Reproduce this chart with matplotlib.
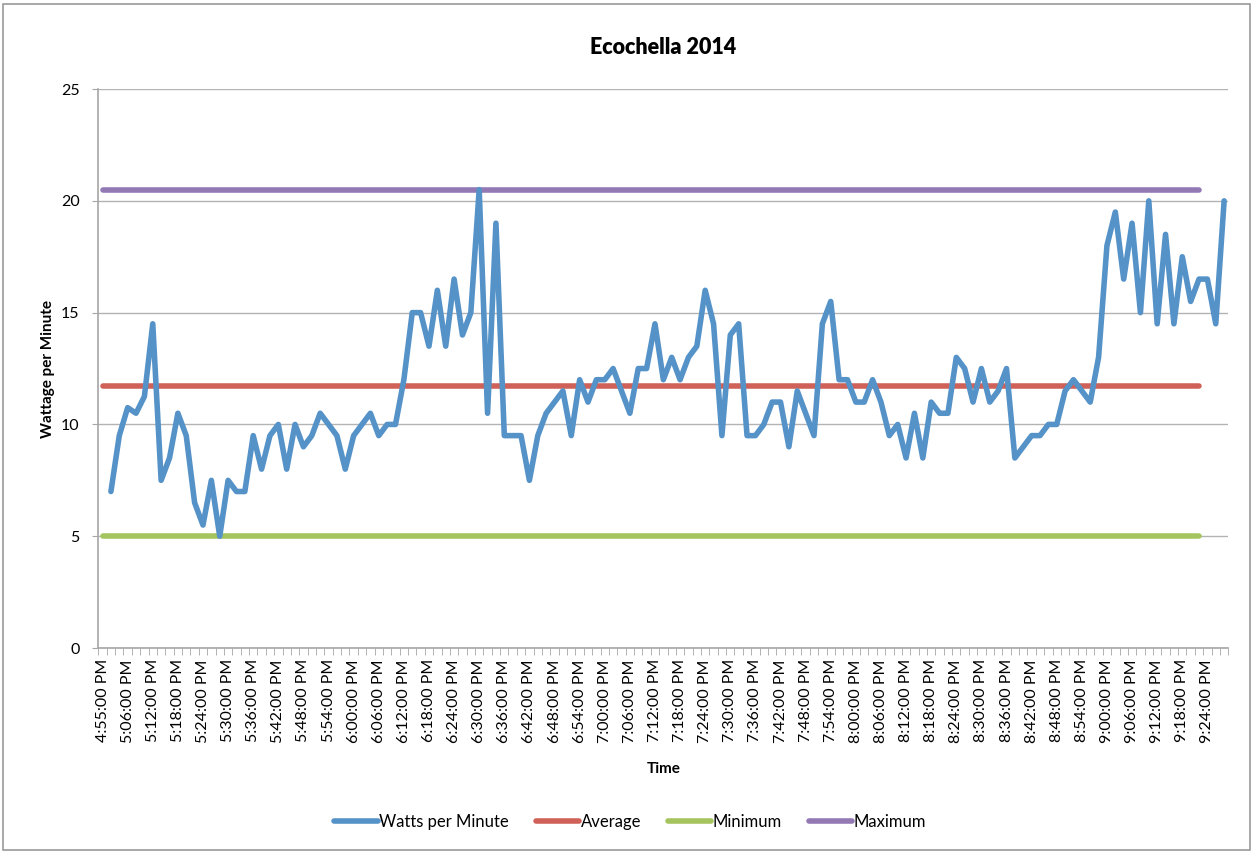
import numpy as np
import matplotlib.pyplot as plt
from matplotlib.patches import Rectangle

plt.rcParams['font.family'] = ['Lato', 'DejaVu Sans']

# x axis: one category per reading, a label every third category
tick_labels = ["4:55:00 PM", "5:06:00 PM", "5:12:00 PM", "5:18:00 PM", "5:24:00 PM",
               "5:30:00 PM", "5:36:00 PM", "5:42:00 PM", "5:48:00 PM", "5:54:00 PM",
               "6:00:00 PM", "6:06:00 PM", "6:12:00 PM", "6:18:00 PM", "6:24:00 PM",
               "6:30:00 PM", "6:36:00 PM", "6:42:00 PM", "6:48:00 PM", "6:54:00 PM",
               "7:00:00 PM", "7:06:00 PM", "7:12:00 PM", "7:18:00 PM", "7:24:00 PM",
               "7:30:00 PM", "7:36:00 PM", "7:42:00 PM", "7:48:00 PM", "7:54:00 PM",
               "8:00:00 PM", "8:06:00 PM", "8:12:00 PM", "8:18:00 PM", "8:24:00 PM",
               "8:30:00 PM", "8:36:00 PM", "8:42:00 PM", "8:48:00 PM", "8:54:00 PM",
               "9:00:00 PM", "9:06:00 PM", "9:12:00 PM", "9:18:00 PM", "9:24:00 PM"]
n_categories = 135

# watts per minute, first category is empty
watts = [np.nan,
         7, 9.5, 10.75, 10.5, 11.25, 14.5, 7.5, 8.5, 10.5, 9.5,
         6.5, 5.5, 7.5, 5, 7.5, 7, 7, 9.5, 8, 9.5,
         10, 8, 10, 9, 9.5, 10.5, 10, 9.5, 8, 9.5,
         10, 10.5, 9.5, 10, 10, 12, 15, 15, 13.5, 16,
         13.5, 16.5, 14, 15, 20.5, 10.5, 19, 9.5, 9.5, 9.5,
         7.5, 9.5, 10.5, 11, 11.5, 9.5, 12, 11, 12, 12,
         12.5, 11.5, 10.5, 12.5, 12.5, 14.5, 12, 13, 12, 13,
         13.5, 16, 14.5, 9.5, 14, 14.5, 9.5, 9.5, 10, 11,
         11, 9, 11.5, 10.5, 9.5, 14.5, 15.5, 12, 12, 11,
         11, 12, 11, 9.5, 10, 8.5, 10.5, 8.5, 11, 10.5,
         10.5, 13, 12.5, 11, 12.5, 11, 11.5, 12.5, 8.5, 9,
         9.5, 9.5, 10, 10, 11.5, 12, 11.5, 11, 13, 18,
         19.5, 16.5, 19, 15, 20, 14.5, 18.5, 14.5, 17.5, 15.5,
         16.5, 16.5, 14.5, 20]

average = 11.7
minimum = 5
maximum = 20.5
n_ref = 132

fig = plt.figure(figsize=(12.53, 8.52), dpi=100)
ax = fig.add_axes([0.0785, 0.2394, 0.9018, 0.6561])

x = np.arange(len(watts))
xr = np.arange(n_ref)
ax.plot(x, watts, color='#5592c8', lw=4.0, solid_joinstyle='round',
        solid_capstyle='round', label='Watts per Minute', zorder=4)
ax.plot(xr, np.full(n_ref, average), color='#cf6158', lw=4.0,
        solid_capstyle='round', label='Average', zorder=3)
ax.plot(xr, np.full(n_ref, minimum), color='#a5c45e', lw=4.0,
        solid_capstyle='round', label='Minimum', zorder=3)
ax.plot(xr, np.full(n_ref, maximum), color='#9279b4', lw=4.0,
        solid_capstyle='round', label='Maximum', zorder=3)

ax.set_xlim(-0.5, n_categories - 0.5)
ax.set_ylim(0, 25)
ax.set_yticks([0, 5, 10, 15, 20, 25])
ax.yaxis.grid(True, color='#b3b3b3', lw=1)
ax.set_axisbelow(True)

ax.set_xticks(np.arange(0, n_categories, 3))
ax.set_xticklabels(tick_labels, rotation=90, fontsize=11.5)
ax.set_xticks(np.arange(n_categories + 1) - 0.5, minor=True)
ax.tick_params(axis='x', which='major', length=0, pad=8)
ax.tick_params(axis='x', which='minor', length=5, color='#a6a6a6')
ax.tick_params(axis='y', length=4.5, color='#a6a6a6', labelsize=11.5, pad=9)

for side in ['top', 'right']:
    ax.spines[side].set_visible(False)
for side in ['left', 'bottom']:
    ax.spines[side].set_color('#a6a6a6')
    ax.spines[side].set_linewidth(1.2)

ax.set_title('Ecochella 2014', fontsize=15.5, fontweight='heavy', pad=25)
ax.set_ylabel('Wattage per Minute', fontsize=11, fontweight='bold', labelpad=4)
ax.set_xlabel('Time', fontsize=11, fontweight='bold', labelpad=14)

fig.legend(loc='center', bbox_to_anchor=(0.503, 0.035), ncol=4, frameon=False,
           fontsize=12, handlelength=2.6, handletextpad=0.1, columnspacing=1.6)

fig.patches.append(Rectangle((0.002, 0.002), 0.996, 0.993, transform=fig.transFigure,
                             fill=False, edgecolor='#9a9a9a', lw=1.2))

fig.savefig('out.png', dpi=100)
